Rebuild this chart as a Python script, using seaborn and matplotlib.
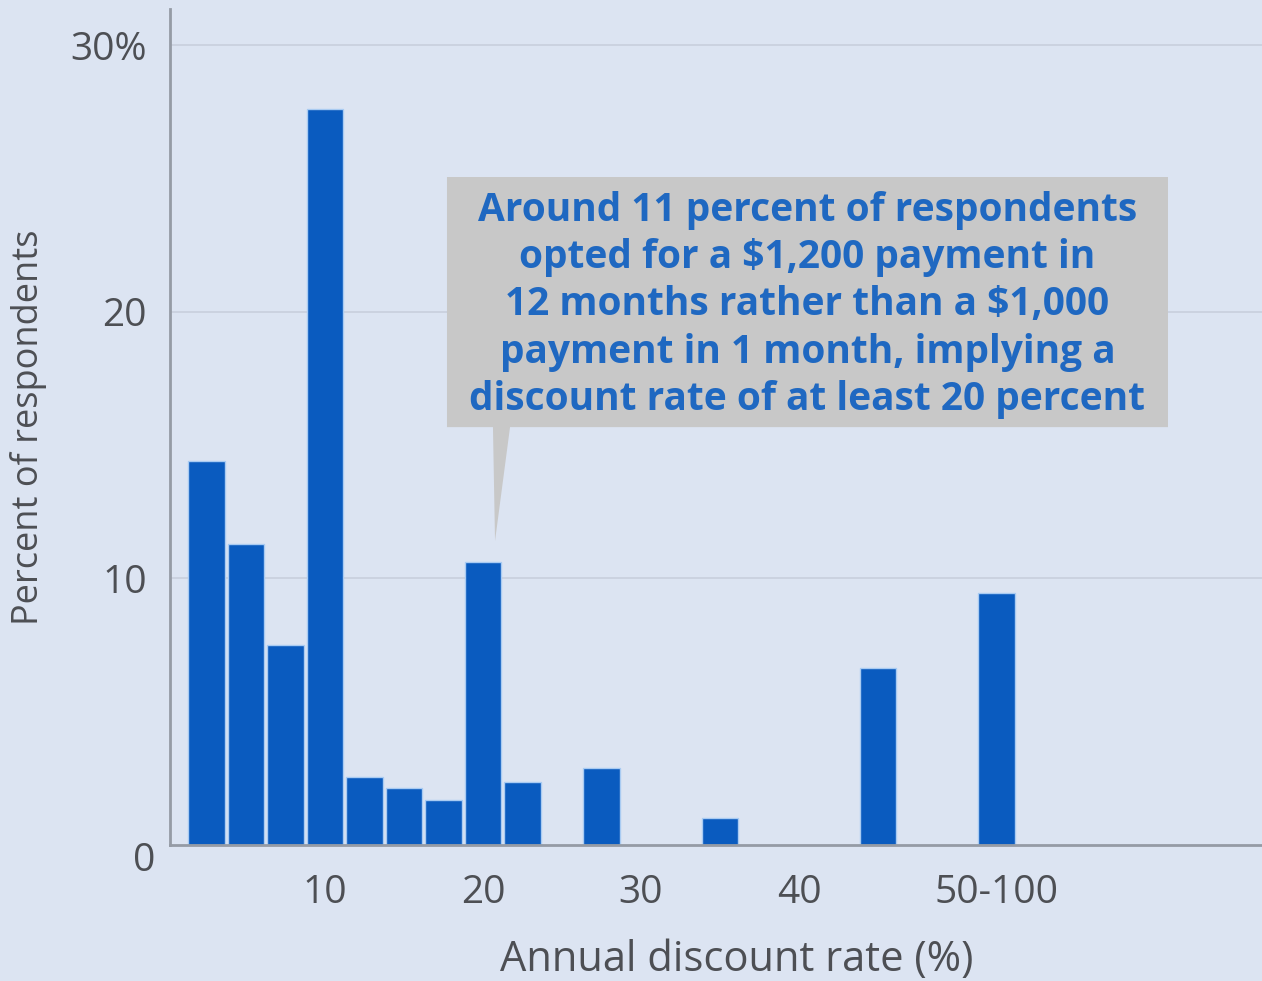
import matplotlib
matplotlib.use("Agg")
import matplotlib.pyplot as plt
import matplotlib.transforms as mtransforms
from matplotlib.patches import Polygon
import seaborn as sns

# Share of respondents by implied annual discount rate
rates = [2.5, 5, 7.5, 10, 12.5, 15, 17.5, 20, 22.5, 27.5, 35, 45, 52.5]
pct = [14.4, 11.3, 7.5, 27.6, 2.55, 2.15, 1.7, 10.6, 2.35, 2.9, 1.0, 6.65, 9.45]

xtick_pos = [10, 20, 30, 40, 52.5]
xtick_labels = ["10", "20", "30", "40", "50-100"]
ytick_pos = [10, 20, 30]
ytick_labels = ["10", "20", "30%"]

note = ("Around 11 percent of respondents\n"
        "opted for a $1,200 payment in\n"
        "12 months rather than a $1,000\n"
        "payment in 1 month, implying a\n"
        "discount rate of at least 20 percent")
note_rate = 20

BG = "#dce4f2"
BAR = "#0a5bbf"
TEXT = "#4d4f54"
GRID = "#c8cfdd"
SPINE = "#959ba5"
TICK_FS = 28
LABEL_FS = 26

sns.set_style("white", {"axes.facecolor": BG, "figure.facecolor": BG})
plt.rcParams["font.family"] = ["Open Sans", "DejaVu Sans"]

fig = plt.figure(figsize=(12.62, 9.81), dpi=100)
ax = fig.add_axes([170 / 1262, 1 - 845 / 981, (1262 - 170) / 1262, (845 - 9) / 981])
ax.set_facecolor(BG)

sns.barplot(x=rates, y=pct, native_scale=True, width=0.93, color=BAR,
            saturation=1, errorbar=None, edgecolor="#a9cbf2", linewidth=1.0,
            ax=ax, zorder=2)

ax.set_xlim(0.19, 69.3)
ax.set_ylim(0, 31.35)

ax.set_xticks(xtick_pos)
ax.set_xticklabels(xtick_labels, fontsize=TICK_FS, color=TEXT)
ax.set_yticks(ytick_pos)
ax.set_yticklabels(ytick_labels, fontsize=TICK_FS, color=TEXT)
ax.tick_params(axis="x", length=0, pad=21)
ax.tick_params(axis="y", length=9.5, width=1.2, color=GRID, pad=7, direction="out")

ax.grid(axis="y", color=GRID, linewidth=1.2, zorder=0)
ax.grid(axis="x", visible=False)
ax.set_axisbelow(True)

for side in ("top", "right"):
    ax.spines[side].set_visible(False)
for side in ("left", "bottom"):
    ax.spines[side].set_visible(True)
    ax.spines[side].set_color(SPINE)
    ax.spines[side].set_linewidth(2)

# zero label sits below the baseline
zero_tf = mtransforms.offset_copy(
    mtransforms.blended_transform_factory(ax.transAxes, ax.transData),
    fig=fig, x=-15, y=-16, units="dots")
ax.text(0, 0, "0", transform=zero_tf, ha="right", va="center",
        fontsize=TICK_FS, color=TEXT)

ax.set_ylabel("Percent of respondents", fontsize=LABEL_FS, color=TEXT,
              va="center", ha="center")
ax.yaxis.set_label_coords(-0.130, 0.5)
ax.set_xlabel("Annual discount rate (%)", fontsize=30, color=TEXT,
              va="center", ha="center")
ax.xaxis.set_label_coords(0.519, -0.137)

# callout box with a pointer down to the 20 percent bar
tip_y = pct[rates.index(note_rate)] + 0.8
box_l, box_r, box_t, box_b = 17.72, 63.35, 25.05, 15.67
callout = Polygon([(box_l, box_t), (box_r, box_t), (box_r, box_b),
                   (21.71, box_b), (note_rate + 0.76, tip_y), (20.63, box_b),
                   (box_l, box_b)],
                  closed=True, facecolor="#c8c8c8", edgecolor="none", zorder=3)
ax.add_patch(callout)
ax.text((box_l + box_r) / 2, 20.25, note, ha="center", va="center",
        fontsize=28, fontweight="bold", color="#1f68c1", linespacing=1.28,
        zorder=4)

fig.savefig("out.png", dpi=100, facecolor=BG)
